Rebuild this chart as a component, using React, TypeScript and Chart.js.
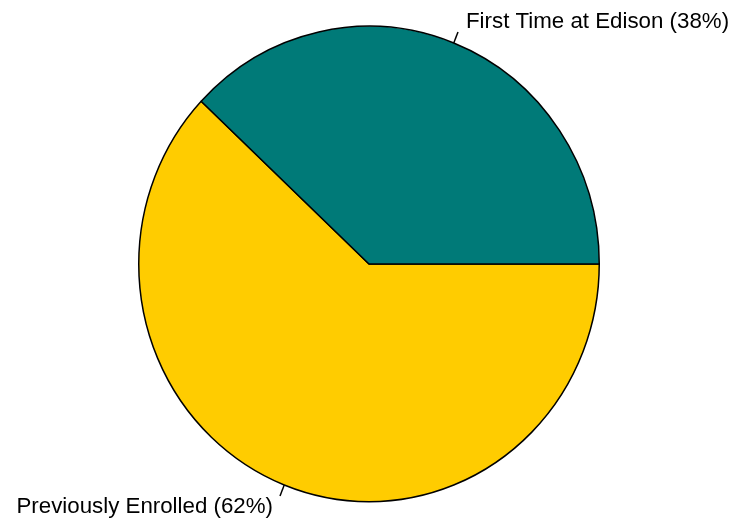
import React, { useEffect, useRef } from "react";
import { Chart, registerables } from "chart.js";

Chart.register(...registerables);

const categories = ["Previously Enrolled", "First Time at Edison"];
const values = [62, 38];
const sliceLabels = ["Previously Enrolled (62%)", "First Time at Edison (38%)"];
const colors = ["#FFCC00", "#007A78"];

// vertical stretch of the pie (reference is slightly taller than wide)
const Y_STRETCH = 238.5 / 231;

const ellipse = {
  id: "ellipse",
  beforeDatasetsDraw(chart: any) {
    const arc = chart.getDatasetMeta(0).data[0];
    if (!arc) return;
    const ctx = chart.ctx;
    ctx.save();
    ctx.translate(0, arc.y);
    ctx.scale(1, Y_STRETCH);
    ctx.translate(0, -arc.y);
  },
  afterDatasetsDraw(chart: any) {
    chart.ctx.restore();
  },
};

const outsideLabels = {
  id: "outsideLabels",
  afterDraw(chart: any) {
    const ctx = chart.ctx;
    const meta = chart.getDatasetMeta(0);
    ctx.save();
    ctx.font = '22.3px "Liberation Sans", Arial, sans-serif';
    ctx.fillStyle = "#000";
    ctx.strokeStyle = "#000";
    ctx.lineWidth = 1.5;
    meta.data.forEach((arc: any, i: number) => {
      const { x, y, startAngle, endAngle, outerRadius } = arc.getProps(
        ["x", "y", "startAngle", "endAngle", "outerRadius"],
        true
      );
      const mid = (startAngle + endAngle) / 2;
      const c = Math.cos(mid);
      const s = Math.sin(mid);
      const r0 = outerRadius;
      const r1 = outerRadius * 1.05;
      const x0 = x + c * r0;
      const y0 = y + s * r0 * Y_STRETCH;
      const x1 = x + c * r1;
      const y1 = y + s * r1 * Y_STRETCH;
      ctx.beginPath();
      ctx.moveTo(x0, y0);
      ctx.lineTo(x1, y1);
      ctx.stroke();
      ctx.textBaseline = "alphabetic";
      ctx.textAlign = c >= 0 ? "left" : "right";
      const tx = c >= 0 ? x1 + 8 : x1 - 7;
      const ty = s < 0 ? y1 - 4 : y1 + 17;
      ctx.fillText(sliceLabels[i], tx, ty);
    });
    ctx.restore();
  },
};

export default function App() {
  const ref = useRef<HTMLCanvasElement | null>(null);
  useEffect(() => {
    if (!ref.current) return;
    const chart = new Chart(ref.current, {
      type: "pie",
      data: {
        labels: categories,
        datasets: [
          {
            data: values,
            backgroundColor: colors,
            borderColor: "#000",
            borderWidth: 1.5,
          },
        ],
      },
      options: {
        responsive: false,
        animation: false,
        rotation: 90,
        layout: { padding: { top: 33, bottom: 30, left: 138, right: 138 } },
        plugins: {
          legend: { display: false },
          tooltip: { enabled: false },
        },
      },
      plugins: [ellipse, outsideLabels],
    });
    return () => chart.destroy();
  }, []);
  return (
    <div style={{ position: "fixed", left: 0, top: 0, width: 738, height: 525, background: "#fff" }}>
      <canvas ref={ref} width={738} height={525} />
    </div>
  );
}
